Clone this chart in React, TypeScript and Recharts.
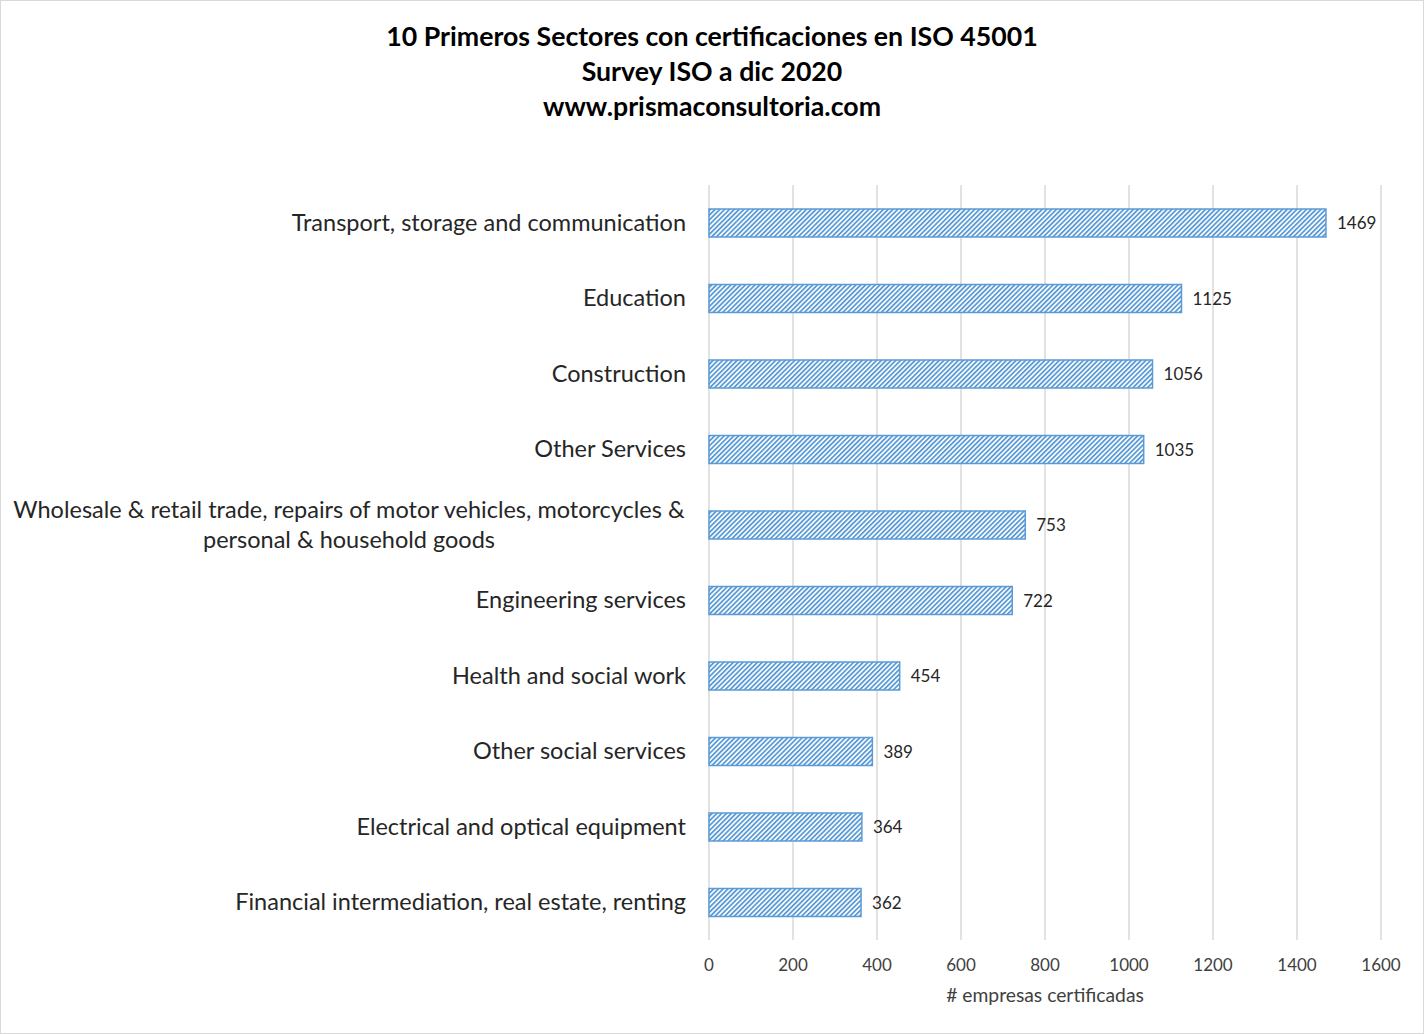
import React from "react";
import {
  BarChart,
  Bar,
  XAxis,
  YAxis,
  CartesianGrid,
  LabelList,
} from "recharts";

const categories = [
  "Transport, storage and communication",
  "Education",
  "Construction",
  "Other Services",
  "Wholesale & retail trade, repairs of motor vehicles, motorcycles &\npersonal & household goods",
  "Engineering services",
  "Health and social work",
  "Other social services",
  "Electrical and optical equipment",
  "Financial intermediation, real estate, renting",
];

const companies = [1469, 1125, 1056, 1035, 753, 722, 454, 389, 364, 362];

const xTicks = [0, 200, 400, 600, 800, 1000, 1200, 1400, 1600];

const titleLines = [
  "10 Primeros Sectores con certificaciones en ISO 45001",
  "Survey ISO a dic 2020",
  "www.prismaconsultoria.com",
];

const FONT = "Lato, 'Open Sans', sans-serif";
const BLUE = "#5b9bd5";

const chartData = categories.map((c, i) => ({ category: c, value: companies[i] }));

function CategoryTick(props: any) {
  const { x, y, payload } = props;
  const lines: string[] = String(payload.value).split("\n");
  const right = x - 15;
  if (lines.length === 1) {
    return (
      <text x={right} y={y} dy="0.35em" textAnchor="end" fontSize={23.5} fill="#262626" fontFamily={FONT}>
        {lines[0]}
      </text>
    );
  }
  // wrapped label: lines centred on each other, block right-aligned
  const cx = right - 337;
  return (
    <text textAnchor="middle" fontSize={23.5} fill="#262626" fontFamily={FONT}>
      {lines.map((l, i) => (
        <tspan key={i} x={cx} y={y + (i - (lines.length - 1) / 2) * 30} dy="0.35em">
          {l}
        </tspan>
      ))}
    </text>
  );
}

export default function App() {
  return (
    <div style={{ position: "absolute", left: 0, top: 0, width: 1424, height: 1034, background: "#fff" }}>
      <div
        style={{
          position: "absolute",
          left: 0,
          top: 0,
          width: 1424,
          height: 1034,
          boxSizing: "border-box",
          border: "1px solid #d9d9d9",
          pointerEvents: "none",
        }}
      />
      <div
        style={{
          position: "absolute",
          left: 0,
          top: 19,
          width: 1424,
          textAlign: "center",
          fontFamily: FONT,
          fontWeight: "bold",
          fontSize: 26.7,
          lineHeight: "35px",
          color: "#000",
        }}
      >
        {titleLines.map((t) => (
          <div key={t}>{t}</div>
        ))}
      </div>
      <BarChart
        width={1424}
        height={1034}
        data={chartData}
        layout="vertical"
        margin={{ top: 185, right: 43, bottom: 0, left: 0 }}
      >
        <defs>
          <pattern id="hatch" patternUnits="userSpaceOnUse" width={3.4} height={3.4} patternTransform="rotate(45)">
            <rect width={3.4} height={3.4} fill="#fff" />
            <line x1={0} y1={0} x2={0} y2={3.4} stroke={BLUE} strokeWidth={3.6} />
          </pattern>
        </defs>
        <CartesianGrid horizontal={false} stroke="#d9d9d9" strokeWidth={1.5} />
        <XAxis
          type="number"
          domain={[0, 1600]}
          ticks={xTicks}
          axisLine={false}
          tickLine={false}
          height={94}
          tickMargin={13}
          tick={{ fontSize: 17, fill: "#404040", fontFamily: FONT }}
          label={{
            value: "# empresas certificadas",
            position: "insideBottom",
            offset: 32,
            fontSize: 19.3,
            fill: "#404040",
            fontFamily: FONT,
          }}
        />
        <YAxis
          type="category"
          dataKey="category"
          axisLine={false}
          tickLine={false}
          width={709}
          interval={0}
          tick={<CategoryTick />}
        />
        <Bar
          dataKey="value"
          barSize={28}
          fill="url(#hatch)"
          stroke={BLUE}
          strokeWidth={1.5}
          isAnimationActive={false}
        >
          <LabelList
            dataKey="value"
            position="right"
            offset={11}
            fontSize={17}
            fill="#262626"
            fontFamily={FONT}
          />
        </Bar>
      </BarChart>
    </div>
  );
}
